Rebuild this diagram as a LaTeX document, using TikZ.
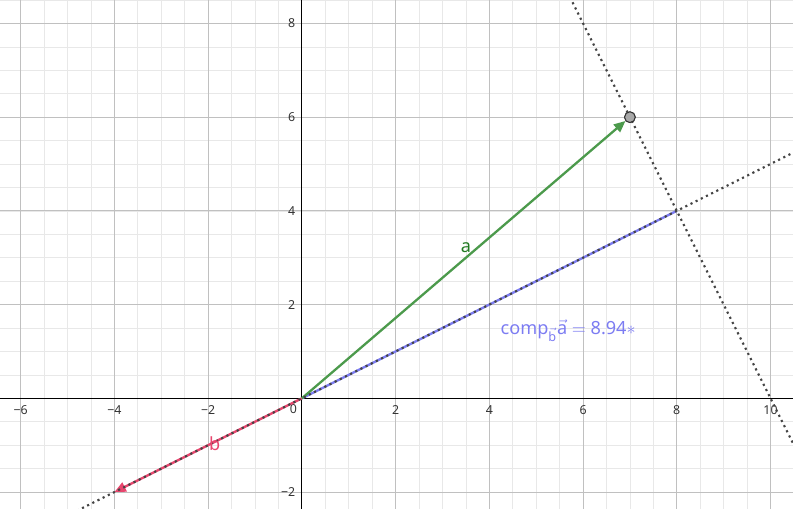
\documentclass[tikz,border=0pt]{standalone}
\usepackage{amsmath}
\usepackage{fontspec}
\setmainfont{Noto Sans}
\usetikzlibrary{arrows.meta}
\definecolor{gridminor}{HTML}{E8E8E8}
\definecolor{gridmajor}{HTML}{C0C0C0}
\definecolor{vecgreen}{HTML}{4C9A4C}
\definecolor{labgreen}{HTML}{217A21}
\definecolor{vecred}{HTML}{E8466E}
\definecolor{projblue}{HTML}{7C7CF2}
\definecolor{dotgray}{HTML}{444444}
\definecolor{ptgray}{HTML}{A8A8A8}

\begin{document}
\begin{tikzpicture}[>=Latex, every node/.style={font=\fontsize{7.5}{9}\selectfont}]
\tikzstyle{vecline}=[line width=1.4pt,-{Triangle[length=7pt,width=6pt]}]
\tikzstyle{auxline}=[dotgray,line width=1.3pt,dash pattern=on 1.3pt off 2.2pt]
\tikzstyle{ticklab}=[inner sep=1pt,text=black!80]
\tikzstyle{veclab}=[font=\fontsize{11}{13}\selectfont,inner sep=1pt]
\useasboundingbox (-6.44,-2.36) rectangle (10.48,8.5);
\clip (-6.44,-2.36) rectangle (10.48,8.5);
% grid and axes
\draw[gridminor,line width=0.4pt,step=0.5] (-7,-3) grid (11,9);
\draw[gridmajor,line width=0.5pt,step=2] (-8,-4) grid (12,10);
\draw[black,line width=0.8pt] (-7,0) -- (11,0);
\draw[black,line width=0.8pt] (0,-3) -- (0,9);
\foreach \x/\t in {-6/−6,-4/−4,-2/−2,2/2,4/4,6/6,8/8,10/10}
  \node[ticklab,anchor=north] (xt\x) at (\x,-0.12) {\t};
\foreach \y/\t in {-2/−2,2/2,4/4,6/6,8/8}
  \node[ticklab,anchor=east] (yt\y) at (-0.1,\y) {\t};
\node[ticklab,anchor=north east] (zero) at (-0.06,-0.1) {0};
% points
\coordinate (O) at (0,0);
\coordinate (B) at (-4,-2);
\coordinate (P) at (8,4);
\coordinate (u1) at (-7,-3.5);
\coordinate (u2) at (11,5.5);
\coordinate (w1) at (5.5,9);
\coordinate (w2) at (10.75,-1.5);
\node[circle,draw=black!80,fill=ptgray,line width=0.6pt,minimum size=6.5pt,inner sep=0pt] (A) at (7,6) {};
% vectors
\draw[projblue,line width=1.4pt] (O) -- (P);
\draw[vecline,vecred] (O) -- (B);
\draw[vecline,vecgreen] (O) -- (A);
\draw[auxline] (u1) -- (u2);
\draw[auxline] (w1) -- (w2);
\node[circle,draw=black!80,fill=ptgray,line width=0.6pt,minimum size=6.5pt,inner sep=0pt] at (A) {};
% labels
\node[veclab,text=labgreen] (alab) at (3.5,3.22) {a};
\node[veclab,text=vecred] (blab) at (-1.86,-0.96) {b};
\node[veclab,text=projblue,anchor=west] (comp) at (4.2,1.44) {comp$_{\vec{\text{b}}}\vec{\text{a}}$ $=$ 8.94$\ast$};
\end{tikzpicture}
\end{document}
